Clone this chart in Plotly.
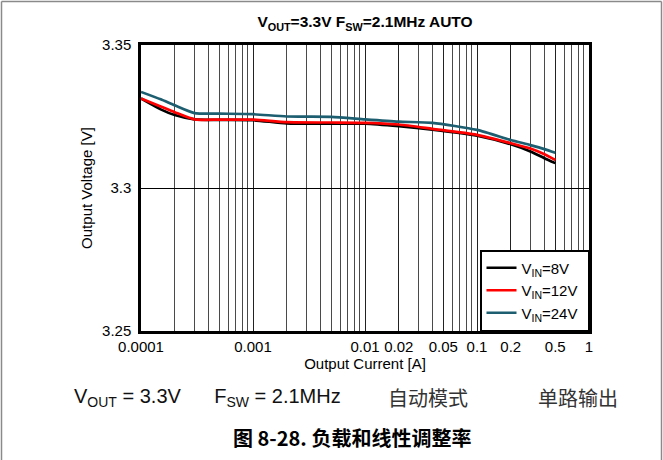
import plotly.graph_objects as go

# ---- data ----
current_a = [1e-4, 1.5e-4, 2e-4, 3e-4, 5e-4, 1e-3, 2e-3, 5e-3, 1e-2, 2e-2, 4e-2, 0.1, 0.2, 0.3, 0.4, 0.5]
vin_8v = [3.3313, 3.3275, 3.3255, 3.3240, 3.3238, 3.3237, 3.3226, 3.3225, 3.3225, 3.3216, 3.3204, 3.3183, 3.3153, 3.3128, 3.3104, 3.3087]
vin_12v = [3.3313, 3.3285, 3.3265, 3.3240, 3.3239, 3.3239, 3.3230, 3.3229, 3.3228, 3.3222, 3.3207, 3.3186, 3.3157, 3.3138, 3.3118, 3.3098]
vin_24v = [3.3336, 3.3310, 3.3289, 3.3262, 3.3260, 3.3258, 3.3250, 3.3249, 3.3240, 3.3232, 3.3228, 3.3203, 3.3168, 3.3150, 3.3136, 3.3123]

series_names = ["V<sub>IN</sub>=8V", "V<sub>IN</sub>=12V", "V<sub>IN</sub>=24V"]
series_colors = ["#000000", "#ff0000", "#1d5e70"]

x_tickvals = [1e-4, 1e-3, 1e-2, 2e-2, 5e-2, 0.1, 0.2, 0.5, 1]
x_ticktext = ["0.0001", "0.001", "0.01", "0.02", "0.05", "0.1", "0.2", "0.5", "1"]
y_tickvals = [3.25, 3.3, 3.35]
y_ticktext = ["3.25", "3.3", "3.35"]

FONT = "Arial, Liberation Sans, sans-serif"
CJK = "Noto Sans CJK SC, sans-serif"
NB = "\u00a0"

fig = go.Figure()
for name, ys, col in zip(series_names, [vin_8v, vin_12v, vin_24v], series_colors):
    fig.add_trace(go.Scatter(x=current_a, y=ys, name=name + NB, mode="lines",
                             line=dict(color=col, width=2.7, shape="spline", smoothing=0.6)))

fig.update_layout(
    width=663, height=460,
    margin=dict(l=141, r=74, t=45, b=129),
    paper_bgcolor="white", plot_bgcolor="white",
    font=dict(family=FONT, size=15, color="#000"),
    title=dict(text="<b>V<sub>OUT</sub>=3.3V F<sub>SW</sub>=2.1MHz AUTO</b>",
               x=365/663, xanchor="center", y=1-22/460, yanchor="middle",
               font=dict(size=15.5, family=FONT)),
    showlegend=True,
    legend=dict(x=1, xanchor="right", y=0, yanchor="bottom",
                bgcolor="white", bordercolor="#000", borderwidth=1.5,
                font=dict(size=15, family=FONT), tracegroupgap=0,
                itemwidth=30, traceorder="normal"),
)

fig.update_xaxes(type="log", range=[-4, 0],
                 tickvals=x_tickvals, ticktext=x_ticktext, ticks="",
                 showgrid=True, gridcolor="#222", gridwidth=1,
                 minor=dict(showgrid=True, gridcolor="#4a4a4a", gridwidth=1,
                            dtick="D1", ticks=""),
                 showline=True, linecolor="#000", linewidth=2.5, mirror=True,
                 title=dict(text="Output Current [A]", font=dict(size=15), standoff=0),
                 tickfont=dict(size=15), zeroline=False)
fig.update_yaxes(range=[3.25, 3.35], tickvals=y_tickvals, ticktext=y_ticktext,
                 ticks="outside", ticklen=4, tickcolor="white",
                 showgrid=True, gridcolor="#000", gridwidth=1,
                 showline=True, linecolor="#000", linewidth=2.5, mirror=True,
                 title=dict(text="Output Voltage [V]", font=dict(size=15), standoff=6),
                 tickfont=dict(size=15), zeroline=False)

# outer page frame (left, top, right)
pw, ph = 448.0, 286.0
def px(x):
    return (x - 141) / pw
def py(y):
    return (331 - y) / ph
for x0, y0, x1, y1 in [(1.5, 1.5, 1.5, 460), (1.5, 1.5, 661.5, 1.5), (661.5, 1.5, 661.5, 460)]:
    fig.add_shape(type="line", xref="paper", yref="paper",
                  x0=px(x0), y0=py(y0), x1=px(x1), y1=py(y1),
                  line=dict(color="#8a8a8a", width=1.5))

fig.add_annotation(text="V<sub>OUT</sub> = 3.3V" + NB * 6 + "F<sub>SW</sub> = 2.1MHz",
                   xref="paper", yref="paper", x=px(72), y=py(398), xanchor="left", yanchor="middle",
                   showarrow=False, font=dict(size=20, family=FONT, color="#111"))
fig.add_annotation(text="自动模式", xref="paper", yref="paper", x=px(428), y=py(398),
                   xanchor="center", yanchor="middle", showarrow=False,
                   font=dict(size=20, family=CJK, color="#333"))
fig.add_annotation(text="单路输出", xref="paper", yref="paper", x=px(578), y=py(398),
                   xanchor="center", yanchor="middle", showarrow=False,
                   font=dict(size=20, family=CJK, color="#333"))
fig.add_annotation(text="<b>图 8-28. 负载和线性调整率</b>", xref="paper", yref="paper",
                   x=px(352), y=py(437), xanchor="center", yanchor="middle", showarrow=False,
                   font=dict(size=20, family=CJK, color="#000"))

fig.write_html("out.html", config={"displayModeBar": False},
               post_script="document.body.style.margin='0';")
